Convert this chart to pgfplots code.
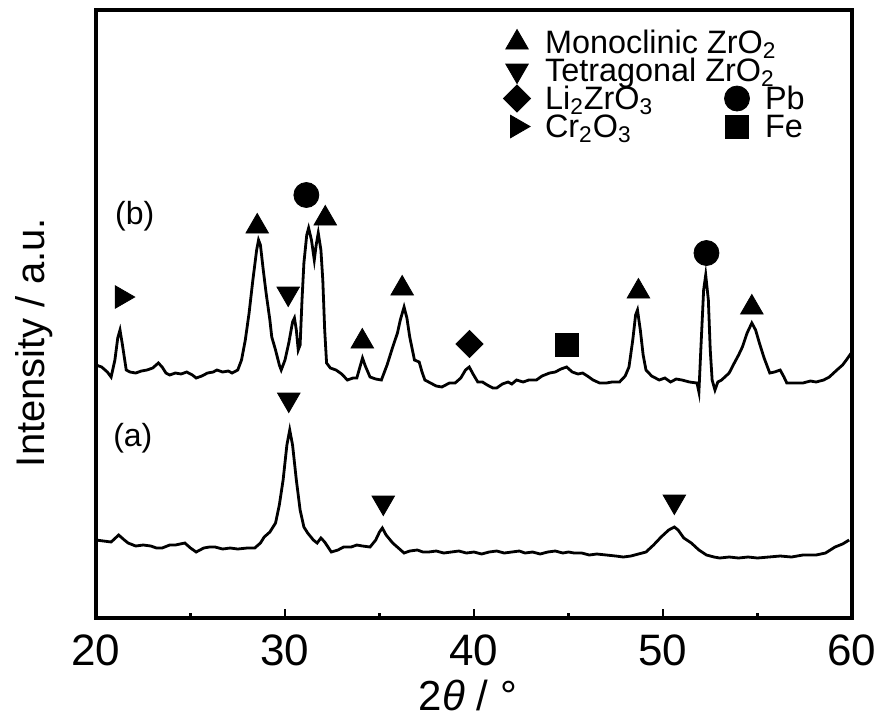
\documentclass[border=0pt]{standalone}
\usepackage{fontspec}
\setmainfont{Liberation Sans}
\usepackage{pgfplots}
\pgfplotsset{compat=1.18}

\begin{document}
\begin{tikzpicture}
\useasboundingbox (-48pt,-51pt) rectangle (390.5pt,309pt);
\begin{axis}[
  at={(0,0)}, anchor=south west,
  scale only axis, width=378pt, height=304pt,
  xmin=20, xmax=60, ymin=0, ymax=608,
  axis line style={line width=1.6pt},
  xtick={20,30,40,50,60}, minor x tick num=1,
  ytick=\empty,
  xtick pos=left, tick align=inside,
  major tick length=4.5pt, minor tick length=2.5pt,
  tick style={line width=1.4pt, black},
  /pgf/number format/assume math mode=true,
  xticklabel style={font=\fontsize{22}{26}\selectfont, inner sep=0pt, yshift=-8pt},
  xlabel={2\textit{θ} / °},
  xlabel style={at={(axis description cs:0.492,-0.127)}, anchor=center, font=\fontsize{21}{25}\selectfont},
  ylabel={Intensity / a.u.},
  ylabel style={at={(axis description cs:-0.082,0.453)}, anchor=center, font=\fontsize{20}{24}\selectfont},
  legend columns=2,
  legend cell align=left,
  legend style={at={(rel axis cs:0.5384,0.961)}, anchor=north west, draw=none, fill=none,
    inner sep=0pt, outer sep=0pt, column sep=0pt, row sep=0pt,
    font=\fontsize{16.2}{19}\selectfont,
    nodes={inner sep=0pt, text height=10pt, text depth=4pt}},
  legend image code/.code={%
    \begin{pgfinterruptboundingbox}
    \draw[mark repeat=2, mark phase=2, #1] plot coordinates {(-5pt,2.6pt) (0pt,2.6pt) (5pt,2.6pt)};
    \end{pgfinterruptboundingbox}
    \path[draw=none, fill=none] (-7pt,-7pt) rectangle (14pt,7pt);},
]
% (b)
\addplot[black, line width=1.4pt, forget plot] coordinates {
(20.0,253) (20.3,251) (20.6,246) (20.8,241) (21.0,258) (21.15,280) (21.27,288) (21.4,273) (21.6,248) (21.8,246)
(22.1,245) (22.4,247) (22.7,248) (23.0,250) (23.3,255) (23.5,251) (23.7,245) (23.9,243) (24.2,245) (24.5,244)
(24.8,246) (25.1,243) (25.3,240) (25.6,242) (25.9,245) (26.2,246) (26.4,248) (26.7,246) (27.0,247) (27.2,245)
(27.5,248) (27.7,258) (27.9,278) (28.1,305) (28.3,338) (28.5,368) (28.6,378) (28.7,373) (28.85,348) (29.0,325)
(29.2,298) (29.3,281) (29.5,268) (29.7,253) (29.8,248) (30.0,258) (30.2,275) (30.4,296) (30.5,300) (30.6,288)
(30.7,268) (30.8,273) (30.9,318) (31.0,355) (31.15,383) (31.25,390) (31.4,378) (31.55,358) (31.65,373) (31.76,385)
(31.9,368) (32.0,338) (32.1,288) (32.2,255) (32.4,250) (32.7,248) (33.0,244) (33.3,238) (33.6,240) (33.8,240)
(33.95,250) (34.1,260) (34.25,252) (34.5,241) (34.8,239) (35.1,238) (35.4,253) (35.7,271) (35.95,285) (36.1,298)
(36.3,311) (36.45,300) (36.6,281) (36.85,258) (37.1,256) (37.25,246) (37.4,238) (37.7,235) (38.0,232) (38.3,231)
(38.7,235) (39.0,235) (39.3,240) (39.55,248) (39.75,251) (39.95,244) (40.2,236) (40.45,236) (40.7,233) (41.0,230)
(41.2,230) (41.5,234) (41.8,236) (42.0,234) (42.25,238) (42.6,236) (42.9,238) (43.3,238) (43.6,242) (44.0,245)
(44.3,246) (44.6,249) (44.9,251) (45.2,246) (45.5,244) (45.75,245) (46.0,242) (46.3,238) (46.65,235) (47.0,235)
(47.3,236) (47.7,236) (48.0,242) (48.2,251) (48.4,278) (48.55,303) (48.65,308) (48.8,288) (48.95,263) (49.1,248)
(49.4,242) (49.8,238) (50.1,240) (50.4,236) (50.7,239) (51.0,238) (51.4,236) (51.8,235) (51.9,226) (52.0,268)
(52.15,328) (52.26,343) (52.4,318) (52.5,268) (52.6,238) (52.75,228) (52.9,236) (53.1,238) (53.5,245) (53.8,256)
(54.0,263) (54.2,271) (54.45,285) (54.7,295) (54.9,288) (55.1,275) (55.35,260) (55.65,245) (55.9,246) (56.2,248)
(56.4,241) (56.55,235) (57.0,235) (57.4,235) (57.8,237) (58.1,236) (58.5,238) (58.8,241) (59.2,248) (59.5,253)
(59.7,258) (60.0,266)
};
% (a)
\addplot[black, line width=1.4pt, forget plot] coordinates {
(20.0,78) (20.4,77) (20.8,76) (21.2,83) (21.5,78) (21.7,75) (22.1,72) (22.5,73) (22.9,72) (23.2,70)
(23.5,70) (23.9,73) (24.2,73) (24.7,75) (25.0,70) (25.3,66) (25.7,70) (26.0,71) (26.3,71) (26.7,69)
(27.1,70) (27.5,69) (28.0,70) (28.4,70) (28.7,75) (28.9,81) (29.2,86) (29.5,95) (29.7,113) (29.9,138)
(30.1,173) (30.25,188) (30.4,173) (30.6,138) (30.8,108) (31.0,91) (31.2,85) (31.5,78) (31.7,75) (31.9,80)
(32.1,76) (32.45,66) (32.8,68) (33.1,71) (33.5,71) (33.8,73) (34.1,72) (34.5,71) (34.8,78) (35.0,86)
(35.15,90) (35.35,83) (35.7,75) (36.0,70) (36.3,65) (36.6,67) (37.0,68) (37.3,66) (37.6,66) (38.0,67)
(38.4,65) (38.8,66) (39.2,67) (39.6,65) (40.0,66) (40.4,64) (40.8,66) (41.2,67) (41.6,65) (42.0,66)
(42.4,67) (42.7,65) (43.1,66) (43.5,64) (43.9,66) (44.3,67) (44.7,65) (45.0,66) (45.3,65) (45.7,65)
(46.1,63) (46.5,64) (47.0,63) (47.5,62) (47.9,61) (48.3,62) (48.7,64) (49.1,66) (49.5,73) (49.9,81)
(50.3,88) (50.6,91) (50.8,88) (51.1,80) (51.5,75) (51.9,68) (52.3,63) (52.7,61) (53.0,60) (53.5,61)
(54.0,60) (54.5,61) (55.0,60) (55.6,61) (56.2,62) (56.8,61) (57.4,63) (58.1,63) (58.6,65) (59.1,71)
(59.5,74) (59.85,78)
};
% markers
\addplot[only marks, black, mark=triangle*, mark size=6.5pt, forget plot] coordinates {
(28.53,391.5) (32.13,399.5) (34.09,276.5) (36.2,329.5) (48.7,326.5) (54.7,310.5)};
\addplot[only marks, black, mark=triangle*, mark size=6.5pt, mark options={rotate=180}, forget plot] coordinates {
(30.17,324.5) (30.2,218.5) (35.2,115.5) (50.6,116.5)};
\addplot[only marks, black, mark=*, mark size=6.25pt, forget plot] coordinates {
(31.13,423) (52.3,365)};
\addplot[only marks, black, mark=square*, mark size=4.8pt, mark options={rotate=45}, forget plot] coordinates {
(39.76,274)};
\addplot[only marks, black, mark=square*, mark size=5.75pt, forget plot] coordinates {
(44.9,273)};
\addplot[only marks, black, mark=triangle*, mark size=6.5pt, mark options={rotate=-90}, forget plot] coordinates {
(21.36,321)};
% legend
\addlegendimage{only marks, black, mark=triangle*, mark size=6.5pt}
\addlegendentry{\makebox[89pt][l]{Monoclinic ZrO\textsubscript{2}}}
\addlegendimage{empty legend}
\addlegendentry{}
\addlegendimage{only marks, black, mark=triangle*, mark size=6.5pt, mark options={rotate=180}}
\addlegendentry{\makebox[89pt][l]{Tetragonal ZrO\textsubscript{2}}}
\addlegendimage{empty legend}
\addlegendentry{}
\addlegendimage{only marks, black, mark=square*, mark size=4.8pt, mark options={rotate=45}}
\addlegendentry{\makebox[89pt][l]{Li\textsubscript{2}ZrO\textsubscript{3}}}
\addlegendimage{only marks, black, mark=*, mark size=6.25pt}
\addlegendentry{Pb}
\addlegendimage{only marks, black, mark=triangle*, mark size=6.5pt, mark options={rotate=-90}}
\addlegendentry{\makebox[89pt][l]{Cr\textsubscript{2}O\textsubscript{3}}}
\addlegendimage{only marks, black, mark=square*, mark size=5.75pt}
\addlegendentry{Fe}
% panel labels
\node[font=\fontsize{16}{19}\selectfont, inner sep=0pt] at (axis cs:22.05,402) {(b)};
\node[font=\fontsize{16}{19}\selectfont, inner sep=0pt] at (axis cs:21.95,180) {(a)};
\end{axis}
\end{tikzpicture}
\end{document}
